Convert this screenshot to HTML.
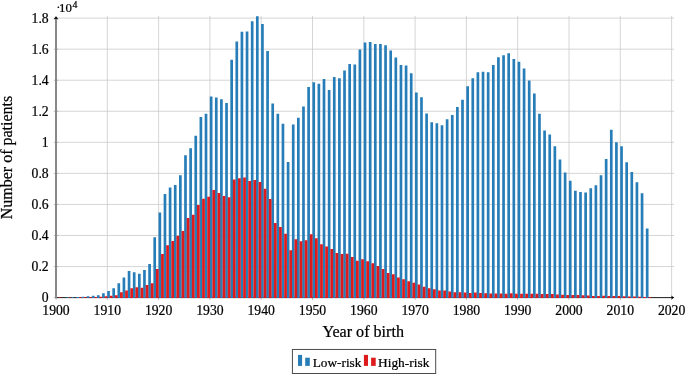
<!DOCTYPE html>
<html><head><meta charset="utf-8"><title>Chart</title>
<style>html,body{margin:0;padding:0;background:#fff}body{width:685px;height:374px;position:relative;overflow:hidden}</style></head>
<body>
<svg width="685" height="374" viewBox="0 0 685 374" style="position:absolute;left:0;top:0">
<path d="M56.00 15.9V297.60M107.30 15.9V297.60M158.60 15.9V297.60M209.90 15.9V297.60M261.20 15.9V297.60M312.50 15.9V297.60M363.80 15.9V297.60M415.10 15.9V297.60M466.40 15.9V297.60M517.70 15.9V297.60M569.00 15.9V297.60M620.30 15.9V297.60M671.60 15.9V297.60M56.00 297.60H674.1M56.00 266.54H674.1M56.00 235.49H674.1M56.00 204.43H674.1M56.00 173.38H674.1M56.00 142.32H674.1M56.00 111.27H674.1M56.00 80.21H674.1M56.00 49.16H674.1M56.00 18.10H674.1" stroke="#cbcbcb" stroke-width="0.8" fill="none"/>
<path d="M56.00 295.30V299.90M107.30 295.30V299.90M158.60 295.30V299.90M209.90 295.30V299.90M261.20 295.30V299.90M312.50 295.30V299.90M363.80 295.30V299.90M415.10 295.30V299.90M466.40 295.30V299.90M517.70 295.30V299.90M569.00 295.30V299.90M620.30 295.30V299.90M671.60 295.30V299.90M53.70 297.60H58.30M53.70 266.54H58.30M53.70 235.49H58.30M53.70 204.43H58.30M53.70 173.38H58.30M53.70 142.32H58.30M53.70 111.27H58.30M53.70 80.21H58.30M53.70 49.16H58.30M53.70 18.10H58.30" stroke="#808080" stroke-width="0.5" fill="none"/>
<path d="M56.00 297.60H672.5" stroke="#000" stroke-width="0.85" fill="none"/>
<path d="M56.00 298.20V18.5" stroke="#888" stroke-width="2" fill="none"/>
<path d="M674.3 297.60L671.3 295.70L672.0 297.60L671.3 299.50Z" fill="#000"/>
<path d="M56.00 16.2L53.60 19.6L56.00 18.8L58.40 19.6Z" fill="#000"/>
<path d="M66.16 298.05V297.29H68.84V298.05ZM71.29 298.05V297.21H73.97V298.05ZM76.42 298.05V297.06H79.10V298.05ZM81.55 298.05V296.82H84.23V298.05ZM86.68 298.05V296.30H89.36V298.05ZM91.81 298.05V295.74H94.49V298.05ZM96.94 298.05V295.16H99.62V298.05ZM102.07 298.05V293.30H104.75V298.05ZM107.20 298.05V291.05H109.88V298.05ZM112.33 298.05V288.28H115.01V298.05ZM117.46 298.05V283.19H120.14V298.05ZM122.59 298.05V277.57H125.27V298.05ZM127.72 298.05V271.03H130.40V298.05ZM132.85 298.05V272.34H135.53V298.05ZM137.98 298.05V273.84H140.66V298.05ZM143.11 298.05V270.10H145.79V298.05ZM148.24 298.05V263.92H150.92V298.05ZM153.37 298.05V237.35H156.05V298.05ZM158.50 298.05V212.38H161.18V298.05ZM163.63 298.05V194.05H166.31V298.05ZM168.76 298.05V187.51H171.44V298.05ZM173.89 298.05V185.07H176.57V298.05ZM179.02 298.05V175.33H181.70V298.05ZM184.15 298.05V155.27H186.83V298.05ZM189.28 298.05V148.35H191.96V298.05ZM194.41 298.05V135.63H197.09V298.05ZM199.54 298.05V117.11H202.22V298.05ZM204.67 298.05V113.74H207.35V298.05ZM209.80 298.05V96.52H212.48V298.05ZM214.93 298.05V97.45H217.61V298.05ZM220.06 298.05V99.14H222.74V298.05ZM225.19 298.05V102.88H227.87V298.05ZM230.32 298.05V59.82H233.00V298.05ZM235.45 298.05V41.48H238.13V298.05ZM240.58 298.05V31.75H243.26V298.05ZM245.71 298.05V31.45H248.39V298.05ZM250.84 298.05V21.28H253.52V298.05ZM255.97 298.05V16.13H258.65V298.05ZM261.10 298.05V24.09H263.78V298.05ZM266.23 298.05V51.02H268.91V298.05ZM271.36 298.05V103.44H274.04V298.05ZM276.49 298.05V113.74H279.17V298.05ZM281.62 298.05V123.64H284.30V298.05ZM286.75 298.05V162.01H289.43V298.05ZM291.88 298.05V124.40H294.56V298.05ZM297.01 298.05V117.85H299.69V298.05ZM302.14 298.05V106.62H304.82V298.05ZM307.27 298.05V86.95H309.95V298.05ZM312.40 298.05V82.28H315.08V298.05ZM317.53 298.05V83.77H320.21V298.05ZM322.66 298.05V79.09H325.34V298.05ZM327.79 298.05V89.95H330.47V298.05ZM332.92 298.05V77.03H335.60V298.05ZM338.05 298.05V78.15H340.73V298.05ZM343.18 298.05V70.48H345.86V298.05ZM348.31 298.05V64.12H350.99V298.05ZM353.44 298.05V64.50H356.12V298.05ZM358.57 298.05V49.53H361.25V298.05ZM363.70 298.05V42.60H366.38V298.05ZM368.83 298.05V42.04H371.51V298.05ZM373.96 298.05V43.91H376.64V298.05ZM379.09 298.05V43.91H381.77V298.05ZM384.22 298.05V45.23H386.90V298.05ZM389.35 298.05V50.46H392.03V298.05ZM394.48 298.05V57.39H397.16V298.05ZM399.61 298.05V65.06H402.29V298.05ZM404.74 298.05V65.62H407.42V298.05ZM409.87 298.05V73.29H412.55V298.05ZM415.00 298.05V92.59H417.68V298.05ZM420.13 298.05V97.29H422.81V298.05ZM425.26 298.05V113.38H427.94V298.05ZM430.39 298.05V122.37H433.07V298.05ZM435.52 298.05V123.30H438.20V298.05ZM440.65 298.05V125.35H443.33V298.05ZM445.78 298.05V119.19H448.46V298.05ZM450.91 298.05V115.07H453.59V298.05ZM456.04 298.05V107.03H458.72V298.05ZM461.17 298.05V99.73H463.85V298.05ZM466.30 298.05V86.24H468.98V298.05ZM471.43 298.05V78.35H474.11V298.05ZM476.56 298.05V72.35H479.24V298.05ZM481.69 298.05V71.80H484.37V298.05ZM486.82 298.05V72.35H489.50V298.05ZM491.95 298.05V65.06H494.63V298.05ZM497.08 298.05V57.20H499.76V298.05ZM502.21 298.05V55.32H504.89V298.05ZM507.34 298.05V53.27H510.02V298.05ZM512.47 298.05V58.88H515.15V298.05ZM517.60 298.05V61.69H520.28V298.05ZM522.73 298.05V68.43H525.41V298.05ZM527.86 298.05V80.40H530.54V298.05ZM532.99 298.05V93.50H535.67V298.05ZM538.12 298.05V113.74H540.80V298.05ZM543.25 298.05V130.57H545.93V298.05ZM548.38 298.05V134.50H551.06V298.05ZM553.51 298.05V146.27H556.19V298.05ZM558.64 298.05V159.45H561.32V298.05ZM563.77 298.05V172.45H566.45V298.05ZM568.90 298.05V180.86H571.58V298.05ZM574.03 298.05V190.78H576.71V298.05ZM579.16 298.05V192.09H581.84V298.05ZM584.29 298.05V192.46H586.97V298.05ZM589.42 298.05V188.35H592.10V298.05ZM594.55 298.05V185.35H597.23V298.05ZM599.68 298.05V175.24H602.36V298.05ZM604.81 298.05V159.09H607.49V298.05ZM609.94 298.05V129.64H612.62V298.05ZM615.07 298.05V142.34H617.75V298.05ZM620.20 298.05V146.27H622.88V298.05ZM625.33 298.05V162.35H628.01V298.05ZM630.46 298.05V171.89H633.14V298.05ZM635.59 298.05V182.35H638.27V298.05ZM640.72 298.05V193.21H643.40V298.05ZM645.85 298.05V228.44H648.53V298.05Z" fill="#267db8"/>
<path d="M58.48 298.05V297.52H61.20V298.05ZM68.74 298.05V297.48H71.46V298.05ZM79.00 298.05V297.37H81.72V298.05ZM84.13 298.05V297.29H86.85V298.05ZM89.26 298.05V297.13H91.98V298.05ZM94.39 298.05V296.90H97.11V298.05ZM99.52 298.05V296.67H102.24V298.05ZM104.65 298.05V296.28H107.37V298.05ZM109.78 298.05V295.74H112.50V298.05ZM114.91 298.05V295.16H117.63V298.05ZM120.04 298.05V292.37H122.76V298.05ZM125.17 298.05V290.49H127.89V298.05ZM130.30 298.05V288.25H133.02V298.05ZM135.43 298.05V287.31H138.15V298.05ZM140.56 298.05V287.86H143.28V298.05ZM145.69 298.05V285.07H148.41V298.05ZM150.82 298.05V283.19H153.54V298.05ZM155.95 298.05V268.97H158.67V298.05ZM161.08 298.05V254.00H163.80V298.05ZM166.21 298.05V245.21H168.93V298.05ZM171.34 298.05V241.09H174.06V298.05ZM176.47 298.05V235.86H179.19V298.05ZM181.60 298.05V230.91H184.32V298.05ZM186.73 298.05V218.00H189.45V298.05ZM191.86 298.05V214.64H194.58V298.05ZM196.99 298.05V204.90H199.71V298.05ZM202.12 298.05V198.73H204.84V298.05ZM207.25 298.05V196.86H209.97V298.05ZM212.38 298.05V189.93H215.10V298.05ZM217.51 298.05V193.11H220.23V298.05ZM222.64 298.05V195.92H225.36V298.05ZM227.77 298.05V197.23H230.49V298.05ZM232.90 298.05V179.45H235.62V298.05ZM238.03 298.05V178.14H240.75V298.05ZM243.16 298.05V177.59H245.88V298.05ZM248.29 298.05V180.96H251.01V298.05ZM253.42 298.05V180.02H256.14V298.05ZM258.55 298.05V181.89H261.27V298.05ZM263.68 298.05V188.81H266.40V298.05ZM268.81 298.05V199.11H271.53V298.05ZM273.94 298.05V222.94H276.66V298.05ZM279.07 298.05V227.12H281.79V298.05ZM284.20 298.05V233.67H286.92V298.05ZM289.33 298.05V250.15H292.05V298.05ZM294.46 298.05V239.29H297.18V298.05ZM299.59 298.05V241.16H302.31V298.05ZM304.72 298.05V240.22H307.44V298.05ZM309.85 298.05V234.23H312.57V298.05ZM314.98 298.05V238.35H317.70V298.05ZM320.11 298.05V244.34H322.83V298.05ZM325.24 298.05V246.40H327.96V298.05ZM330.37 298.05V249.01H333.09V298.05ZM335.50 298.05V252.94H338.22V298.05ZM340.63 298.05V253.89H343.35V298.05ZM345.76 298.05V253.69H348.48V298.05ZM350.89 298.05V257.06H353.61V298.05ZM356.02 298.05V260.80H358.74V298.05ZM361.15 298.05V259.31H363.87V298.05ZM366.28 298.05V261.17H369.00V298.05ZM371.41 298.05V263.24H374.13V298.05ZM376.54 298.05V266.05H379.26V298.05ZM381.67 298.05V268.95H384.39V298.05ZM386.80 298.05V272.90H389.52V298.05ZM391.93 298.05V274.22H394.65V298.05ZM397.06 298.05V277.40H399.78V298.05ZM402.19 298.05V279.26H404.91V298.05ZM407.32 298.05V281.14H410.04V298.05ZM412.45 298.05V282.63H415.17V298.05ZM417.58 298.05V284.49H420.30V298.05ZM422.71 298.05V286.75H425.43V298.05ZM427.84 298.05V288.24H430.56V298.05ZM432.97 298.05V289.37H435.69V298.05ZM438.10 298.05V290.49H440.82V298.05ZM443.23 298.05V290.49H445.95V298.05ZM448.36 298.05V291.42H451.08V298.05ZM453.49 298.05V292.37H456.21V298.05ZM458.62 298.05V292.37H461.34V298.05ZM463.75 298.05V292.55H466.47V298.05ZM468.88 298.05V292.93H471.60V298.05ZM474.01 298.05V292.55H476.73V298.05ZM479.14 298.05V292.93H481.86V298.05ZM484.27 298.05V293.30H486.99V298.05ZM489.40 298.05V293.49H492.12V298.05ZM494.53 298.05V293.49H497.25V298.05ZM499.66 298.05V293.49H502.38V298.05ZM504.79 298.05V293.86H507.51V298.05ZM509.92 298.05V293.13H512.64V298.05ZM515.05 298.05V293.80H517.77V298.05ZM520.18 298.05V293.80H522.90V298.05ZM525.31 298.05V293.72H528.03V298.05ZM530.44 298.05V293.80H533.16V298.05ZM535.57 298.05V293.87H538.29V298.05ZM540.70 298.05V293.95H543.42V298.05ZM545.83 298.05V293.95H548.55V298.05ZM550.96 298.05V294.03H553.68V298.05ZM556.09 298.05V294.57H558.81V298.05ZM561.22 298.05V294.81H563.94V298.05ZM566.35 298.05V294.93H569.07V298.05ZM571.48 298.05V295.04H574.20V298.05ZM576.61 298.05V295.04H579.33V298.05ZM581.74 298.05V295.19H584.46V298.05ZM586.87 298.05V295.43H589.59V298.05ZM592.00 298.05V295.89H594.72V298.05ZM597.13 298.05V295.89H599.85V298.05ZM602.26 298.05V295.74H604.98V298.05ZM607.39 298.05V295.97H610.11V298.05ZM612.52 298.05V296.12H615.24V298.05ZM617.65 298.05V296.12H620.37V298.05ZM622.78 298.05V296.28H625.50V298.05ZM627.91 298.05V296.44H630.63V298.05ZM633.04 298.05V296.59H635.76V298.05ZM638.17 298.05V296.82H640.89V298.05ZM643.30 298.05V296.98H646.02V298.05ZM648.43 298.05V297.21H651.15V298.05Z" fill="#dd1b1d"/>
<rect x="292.4" y="349.45" width="143.3" height="24.05" fill="#fff" stroke="#444" stroke-width="0.95"/>
<rect x="298.0" y="354.9" width="4.1" height="11" fill="#267db8"/><rect x="305.2" y="357.7" width="4.6" height="8.2" fill="#267db8"/>
<rect x="363.9" y="354.9" width="4.1" height="11" fill="#dd1b1d"/><rect x="371.1" y="357.7" width="4.6" height="8.2" fill="#dd1b1d"/>
<text x="48.7" y="302.10" text-anchor="end" font-size="13.7" font-family="Liberation Serif, Times New Roman, serif" stroke="#000" stroke-width="0.22">0</text>
<text x="48.7" y="271.04" text-anchor="end" font-size="13.7" font-family="Liberation Serif, Times New Roman, serif" stroke="#000" stroke-width="0.22">0.2</text>
<text x="48.7" y="239.99" text-anchor="end" font-size="13.7" font-family="Liberation Serif, Times New Roman, serif" stroke="#000" stroke-width="0.22">0.4</text>
<text x="48.7" y="208.93" text-anchor="end" font-size="13.7" font-family="Liberation Serif, Times New Roman, serif" stroke="#000" stroke-width="0.22">0.6</text>
<text x="48.7" y="177.88" text-anchor="end" font-size="13.7" font-family="Liberation Serif, Times New Roman, serif" stroke="#000" stroke-width="0.22">0.8</text>
<text x="48.7" y="146.82" text-anchor="end" font-size="13.7" font-family="Liberation Serif, Times New Roman, serif" stroke="#000" stroke-width="0.22">1</text>
<text x="48.7" y="115.77" text-anchor="end" font-size="13.7" font-family="Liberation Serif, Times New Roman, serif" stroke="#000" stroke-width="0.22">1.2</text>
<text x="48.7" y="84.71" text-anchor="end" font-size="13.7" font-family="Liberation Serif, Times New Roman, serif" stroke="#000" stroke-width="0.22">1.4</text>
<text x="48.7" y="53.66" text-anchor="end" font-size="13.7" font-family="Liberation Serif, Times New Roman, serif" stroke="#000" stroke-width="0.22">1.6</text>
<text x="48.7" y="22.60" text-anchor="end" font-size="13.7" font-family="Liberation Serif, Times New Roman, serif" stroke="#000" stroke-width="0.22">1.8</text>
<text x="56.00" y="314.6" text-anchor="middle" font-size="13.7" font-family="Liberation Serif, Times New Roman, serif" stroke="#000" stroke-width="0.22">1900</text>
<text x="107.30" y="314.6" text-anchor="middle" font-size="13.7" font-family="Liberation Serif, Times New Roman, serif" stroke="#000" stroke-width="0.22">1910</text>
<text x="158.60" y="314.6" text-anchor="middle" font-size="13.7" font-family="Liberation Serif, Times New Roman, serif" stroke="#000" stroke-width="0.22">1920</text>
<text x="209.90" y="314.6" text-anchor="middle" font-size="13.7" font-family="Liberation Serif, Times New Roman, serif" stroke="#000" stroke-width="0.22">1930</text>
<text x="261.20" y="314.6" text-anchor="middle" font-size="13.7" font-family="Liberation Serif, Times New Roman, serif" stroke="#000" stroke-width="0.22">1940</text>
<text x="312.50" y="314.6" text-anchor="middle" font-size="13.7" font-family="Liberation Serif, Times New Roman, serif" stroke="#000" stroke-width="0.22">1950</text>
<text x="363.80" y="314.6" text-anchor="middle" font-size="13.7" font-family="Liberation Serif, Times New Roman, serif" stroke="#000" stroke-width="0.22">1960</text>
<text x="415.10" y="314.6" text-anchor="middle" font-size="13.7" font-family="Liberation Serif, Times New Roman, serif" stroke="#000" stroke-width="0.22">1970</text>
<text x="466.40" y="314.6" text-anchor="middle" font-size="13.7" font-family="Liberation Serif, Times New Roman, serif" stroke="#000" stroke-width="0.22">1980</text>
<text x="517.70" y="314.6" text-anchor="middle" font-size="13.7" font-family="Liberation Serif, Times New Roman, serif" stroke="#000" stroke-width="0.22">1990</text>
<text x="569.00" y="314.6" text-anchor="middle" font-size="13.7" font-family="Liberation Serif, Times New Roman, serif" stroke="#000" stroke-width="0.22">2000</text>
<text x="620.30" y="314.6" text-anchor="middle" font-size="13.7" font-family="Liberation Serif, Times New Roman, serif" stroke="#000" stroke-width="0.22">2010</text>
<text x="671.60" y="314.6" text-anchor="middle" font-size="13.7" font-family="Liberation Serif, Times New Roman, serif" stroke="#000" stroke-width="0.22">2020</text>
<text x="363.2" y="336.6" text-anchor="middle" font-size="16.1" font-family="Liberation Serif, Times New Roman, serif" stroke="#000" stroke-width="0.22">Year of birth</text>
<text transform="translate(12.2 157.5) rotate(-90)" text-anchor="middle" font-size="16" font-family="Liberation Serif, Times New Roman, serif" stroke="#000" stroke-width="0.22">Number of patients</text>
<text x="56.2" y="11.4" font-size="12.7" font-family="Liberation Serif, Times New Roman, serif" stroke="#000" stroke-width="0.22">·</text>
<text x="59.0" y="11.5" font-size="12.9" font-family="Liberation Serif, Times New Roman, serif" stroke="#000" stroke-width="0.22">10<tspan dy="-3.9" dx="0.5" font-size="9.8">4</tspan></text>
<text x="312.7" y="367.3" font-size="13.3" font-family="Liberation Serif, Times New Roman, serif" stroke="#000" stroke-width="0.22">Low-risk</text>
<text x="378.0" y="367.3" font-size="13.4" font-family="Liberation Serif, Times New Roman, serif" stroke="#000" stroke-width="0.22">High-risk</text>
</svg>
</body></html>
